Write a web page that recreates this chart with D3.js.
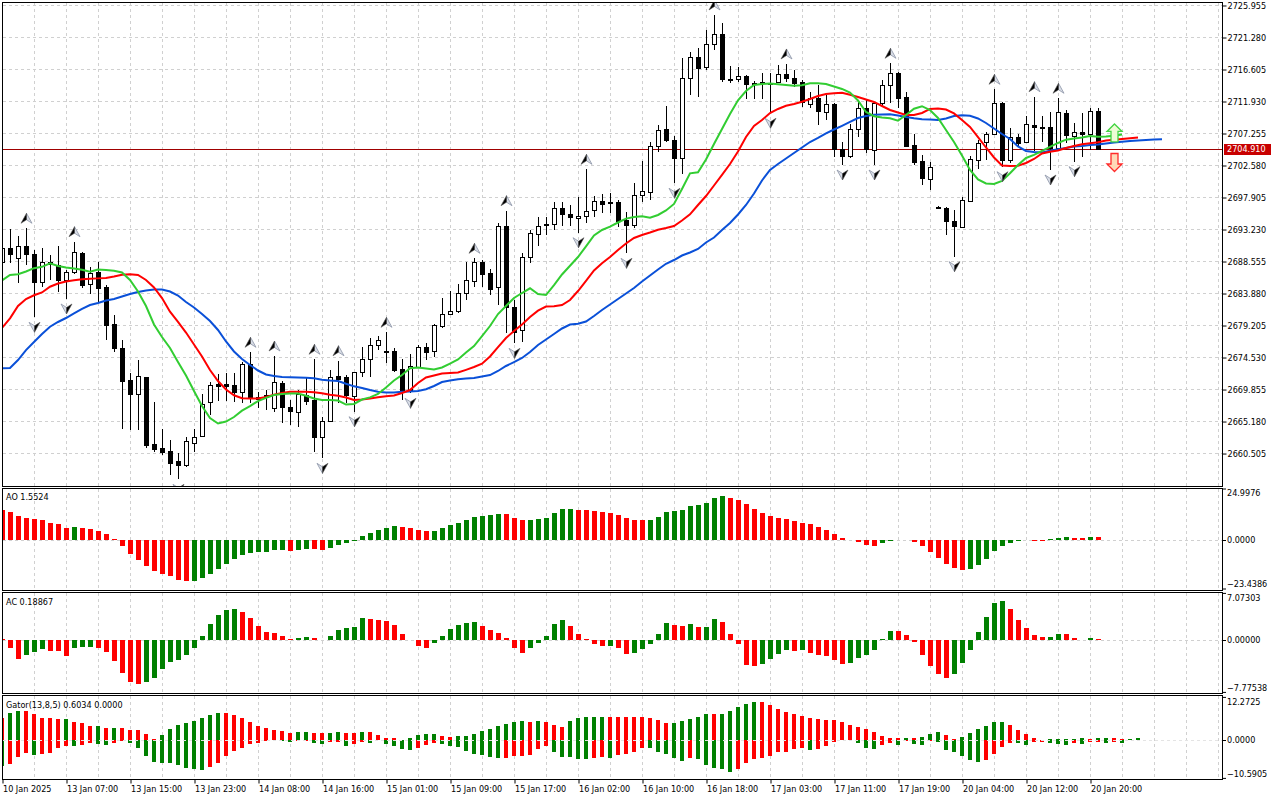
<!DOCTYPE html>
<html>
<head>
<meta charset="utf-8">
<script src="https://cdn.jsdelivr.net/npm/d3@7"></script>
<style>
  body { margin: 0; background: #fff; }
  svg text { font-family: "DejaVu Sans Condensed", "DejaVu Sans", sans-serif; font-stretch: condensed; font-size: 9px; fill: #000; }
</style>
</head>
<body>
<svg id="chart"></svg>
<script>
// candles, one per hour (bar index 0 = 10 Jan 2025)
let open = [2688.41,2690.41,2688.95,2690.75,2689.54,2685.45,2688.46,2687.97,2685.78,2686.91,
  2689.68,2685.20,2687.00,2684.72,2679.35,2675.80,2671.17,2669.08,2671.57,2661.82,
  2661.24,2660.80,2659.34,2658.75,2661.92,2662.99,2667.91,2670.54,2670.54,2670.44,
  2669.46,2673.51,2668.50,2669.02,2667.04,2670.69,2667.18,2666.54,2668.98,2668.25,
  2662.80,2665.08,2671.76,2671.57,2668.73,2672.24,2674.20,2676.18,2675.45,2675.41,
  2672.78,2669.71,2673.11,2676.04,2675.31,2679.10,2680.81,2681.15,2683.84,2685.68,
  2688.46,2686.76,2684.72,2693.67,2681.88,2678.37,2689.10,2692.60,2693.92,2693.92,
  2696.26,2695.38,2694.94,2695.18,2695.91,2697.28,2697.22,2697.22,2694.55,2693.82,
  2698.20,2698.68,2705.36,2707.80,2706.24,2703.56,2715.25,2718.32,2716.86,2720.22,
  2721.68,2715.10,2715.15,2715.63,2714.52,2714.49,2714.61,2714.67,2715.83,2715.25,
  2714.75,2711.50,2712.33,2710.37,2711.50,2704.88,2703.80,2707.80,2710.87,2704.67,
  2711.60,2714.27,2716.07,2712.47,2705.50,2703.17,2700.64,2696.40,2696.26,2694.40,
  2693.57,2697.22,2703.42,2705.84,2707.11,2711.69,2703.42,2706.72,2705.90,2708.43,
  2708.18,2708.09,2705.17,2710.14,2706.82,2707.36,2707.11,2710.47];
let high = [2691.63,2693.23,2692.21,2693.34,2690.16,2690.41,2689.43,2690.75,2687.24,2691.38,
  2689.92,2687.73,2688.46,2685.05,2680.67,2677.02,2672.15,2674.09,2671.66,2668.00,
  2663.97,2662.41,2660.51,2662.85,2663.97,2669.13,2670.92,2672.05,2672.24,2672.24,
  2673.85,2675.22,2669.46,2669.71,2674.68,2671.03,2668.25,2669.71,2671.57,2674.20,
  2665.81,2672.63,2673.99,2671.90,2672.38,2676.04,2677.27,2677.60,2678.14,2675.80,
  2674.20,2674.97,2676.29,2676.62,2679.35,2683.11,2684.22,2685.15,2688.46,2688.95,
  2688.70,2687.35,2694.07,2695.91,2682.86,2689.68,2693.09,2694.94,2695.03,2697.22,
  2697.22,2696.74,2697.95,2701.95,2698.05,2698.35,2698.45,2697.47,2695.76,2700.00,
  2703.17,2705.99,2708.43,2711.20,2706.82,2718.17,2719.14,2719.63,2722.31,2724.50,
  2723.29,2717.05,2716.94,2715.73,2714.86,2715.98,2716.07,2717.19,2717.34,2716.46,
  2715.00,2713.29,2714.27,2712.81,2711.64,2705.99,2708.57,2712.08,2712.08,2711.69,
  2715.00,2717.44,2716.21,2713.29,2707.11,2704.04,2703.07,2696.52,2696.49,2696.01,
  2697.95,2703.90,2706.24,2707.45,2713.64,2711.79,2707.95,2707.11,2709.74,2712.56,
  2709.74,2710.28,2712.33,2710.62,2708.76,2710.14,2710.87,2710.87];
let low = [2687.54,2688.27,2685.30,2687.97,2680.33,2684.72,2685.78,2684.07,2683.01,2686.66,
  2684.57,2683.74,2682.38,2677.02,2675.31,2664.01,2663.87,2663.87,2661.19,2660.70,
  2660.21,2657.29,2656.66,2658.46,2660.70,2662.80,2666.06,2668.15,2668.15,2668.00,
  2667.77,2667.77,2667.04,2666.79,2666.54,2664.85,2664.60,2664.35,2667.52,2660.70,
  2659.73,2665.08,2667.77,2667.77,2666.54,2671.66,2671.66,2675.55,2673.61,2672.38,
  2668.25,2669.23,2672.93,2674.09,2674.57,2678.73,2680.74,2681.00,2682.86,2684.72,
  2684.72,2683.59,2682.13,2678.04,2676.53,2676.77,2688.31,2690.75,2692.36,2693.09,
  2693.67,2693.67,2692.69,2694.15,2695.03,2695.53,2695.53,2693.57,2689.68,2693.34,
  2697.22,2697.47,2704.53,2705.99,2699.91,2701.27,2712.81,2712.47,2716.46,2719.39,
  2714.75,2714.61,2714.75,2712.23,2712.23,2712.23,2710.14,2714.52,2714.67,2714.02,
  2711.10,2710.87,2708.43,2709.16,2703.80,2702.58,2703.56,2706.72,2704.38,2702.58,
  2711.10,2711.60,2710.87,2705.26,2702.58,2699.66,2698.93,2696.16,2692.36,2689.19,
  2693.48,2697.22,2701.96,2703.31,2706.97,2702.33,2702.83,2705.26,2705.75,2704.67,
  2705.99,2701.85,2705.02,2705.75,2703.07,2703.80,2704.77,2704.70];
let close = [2690.46,2689.54,2690.75,2689.54,2685.45,2688.37,2688.22,2685.78,2686.91,2689.83,
  2684.95,2686.85,2684.72,2679.17,2675.80,2670.92,2669.08,2671.76,2661.68,2661.13,
  2660.70,2659.09,2658.75,2662.26,2662.80,2667.66,2670.44,2670.30,2670.19,2669.46,
  2673.51,2668.50,2668.73,2668.73,2670.84,2667.18,2666.54,2669.13,2668.15,2662.80,
  2665.18,2671.57,2671.32,2668.98,2672.30,2674.20,2676.29,2676.97,2675.26,2672.63,
  2669.71,2673.22,2676.04,2675.31,2679.17,2680.81,2681.25,2683.84,2685.78,2688.46,
  2686.76,2684.42,2693.67,2681.88,2678.23,2689.10,2692.60,2693.72,2693.72,2696.26,
  2695.38,2694.88,2695.18,2695.86,2697.28,2696.88,2697.07,2694.45,2693.82,2698.20,
  2698.78,2705.40,2707.70,2706.24,2703.56,2715.25,2718.32,2716.71,2720.22,2721.68,
  2715.10,2714.96,2715.63,2714.52,2714.42,2714.67,2714.49,2715.88,2715.25,2714.52,
  2711.83,2712.42,2710.37,2711.50,2704.88,2703.80,2707.80,2710.87,2704.88,2711.60,
  2714.27,2716.07,2712.47,2705.36,2703.07,2700.64,2702.33,2696.30,2694.30,2693.67,
  2697.47,2703.42,2705.84,2707.07,2711.60,2703.31,2706.72,2705.84,2708.53,2708.18,
  2708.03,2705.02,2710.37,2706.97,2707.36,2707.11,2710.47,2704.91];
let lastPrice = 2704.91;

// alligator lines, already shifted forward (jaw 8, teeth 5, lips 3 bars)
let jaw = [2672.88,2672.93,2674.09,2675.55,2676.72,2677.89,2678.96,2679.65,2680.23,2680.89,
  2681.55,2682.13,2682.42,2682.79,2683.01,2683.37,2683.74,2684.03,2684.25,2684.39,
  2684.40,2684.10,2683.52,2682.57,2681.76,2680.81,2679.79,2678.48,2676.80,2675.34,
  2674.24,2673.36,2672.56,2671.98,2671.76,2671.61,2671.58,2671.55,2671.52,2671.42,
  2671.20,2671.10,2671.03,2670.62,2670.25,2670.00,2669.71,2669.45,2669.35,2669.34,
  2669.45,2669.49,2669.57,2669.83,2670.30,2670.88,2671.10,2671.29,2671.39,2671.46,
  2671.68,2671.90,2672.49,2673.22,2673.80,2674.39,2675.26,2676.29,2677.09,2677.89,
  2678.70,2679.28,2679.38,2679.72,2680.52,2681.40,2682.20,2683.01,2683.81,2684.61,
  2685.56,2686.44,2687.32,2688.15,2688.70,2689.36,2689.80,2690.31,2691.26,2691.99,
  2693.09,2694.11,2695.35,2696.74,2698.42,2700.32,2701.85,2702.73,2703.53,2704.34,
  2705.14,2705.94,2706.53,2707.19,2707.77,2708.31,2708.87,2709.45,2709.74,2709.92,
  2709.96,2709.99,2709.82,2709.60,2709.42,2709.28,2709.22,2709.16,2709.38,2709.74,
  2709.85,2709.77,2709.38,2708.72,2707.92,2707.11,2706.38,2705.29,2704.63,2704.48,
  2704.41,2704.66,2704.89,2705.07,2705.27,2705.36,2705.51,2705.58,2705.71,2705.86,
  2705.97,2706.09,2706.16,2706.24,2706.29,2706.34];
let teeth = [2678.77,2680.19,2681.98,2683.01,2683.55,2683.96,2684.80,2685.27,2685.56,2685.74,
  2685.90,2685.96,2686.02,2686.07,2686.29,2686.54,2686.63,2686.51,2685.78,2684.69,
  2683.15,2681.15,2679.65,2678.11,2676.36,2674.61,2672.63,2671.03,2669.78,2668.94,
  2668.50,2668.49,2668.49,2668.69,2669.01,2669.27,2669.46,2669.46,2669.46,2669.39,
  2669.24,2669.02,2668.86,2668.62,2668.25,2668.32,2668.47,2668.66,2668.79,2668.91,
  2669.27,2669.71,2670.73,2671.54,2671.83,2672.12,2672.19,2672.27,2672.66,2673.07,
  2673.55,2674.61,2675.99,2677.31,2678.33,2679.28,2680.38,2681.30,2681.91,2681.94,
  2682.13,2682.86,2684.17,2685.64,2687.17,2688.22,2689.14,2690.16,2691.11,2691.92,
  2692.36,2692.72,2693.12,2693.38,2693.67,2694.47,2695.38,2696.74,2698.05,2699.59,
  2701.15,2702.73,2704.56,2706.67,2708.28,2709.16,2710.18,2710.77,2711.23,2711.50,
  2711.82,2712.23,2712.66,2712.96,2713.06,2713.13,2712.85,2712.52,2712.15,2711.79,
  2711.20,2710.62,2710.25,2709.89,2709.88,2710.18,2710.77,2710.84,2710.69,2710.11,
  2709.16,2708.14,2706.67,2705.14,2703.68,2702.51,2702.44,2702.47,2702.88,2703.46,
  2704.26,2704.53,2704.70,2705.07,2705.36,2705.62,2705.75,2705.90,2706.16,2706.27,
  2706.38,2706.50,2706.59];
let lips = [2685.71,2686.51,2686.63,2687.02,2687.51,2687.71,2688.22,2687.83,2687.61,2687.46,
  2687.27,2687.00,2687.32,2687.24,2687.13,2686.88,2685.78,2684.10,2681.98,2679.28,
  2677.45,2675.85,2673.80,2671.83,2669.56,2667.37,2665.62,2664.82,2665.11,2665.77,
  2666.69,2667.37,2668.10,2668.57,2668.98,2669.13,2669.20,2669.20,2668.88,2668.47,
  2668.25,2668.25,2668.18,2667.59,2667.67,2668.32,2668.64,2669.13,2670.08,2671.10,
  2671.90,2672.88,2673.00,2672.85,2672.71,2673.00,2673.58,2674.17,2675.19,2676.14,
  2677.60,2679.06,2680.81,2681.98,2683.15,2683.88,2684.57,2683.74,2683.59,2685.05,
  2686.59,2687.86,2689.14,2690.68,2692.28,2693.09,2693.57,2694.18,2694.75,2694.99,
  2695.09,2694.88,2695.28,2695.94,2696.89,2699.08,2701.37,2701.53,2703.39,2705.65,
  2707.84,2710.03,2712.04,2713.39,2714.27,2714.42,2714.49,2714.39,2714.27,2714.17,
  2714.23,2714.52,2714.52,2714.42,2714.05,2713.69,2713.15,2712.01,2710.33,2709.71,
  2709.51,2709.41,2709.06,2709.89,2710.81,2711.17,2710.62,2709.45,2707.70,2705.94,
  2703.97,2701.85,2700.47,2699.88,2699.81,2700.25,2701.37,2702.58,2703.61,2704.07,
  2704.66,2705.24,2705.80,2706.28,2706.44,2706.59,2706.82,2706.70,2706.73,2706.85,
  2707.04];

// fractal bars
let fractalUpBars = [3, 9, 31, 34, 39, 42, 48, 59, 63, 73, 89, 98, 111, 124, 129, 132];
let fractalDownBars = [4, 8, 22, 40, 44, 51, 64, 72, 78, 84, 96, 105, 109, 119, 125, 131, 134];

// signal arrows at the right edge
let signalBars = [139, 139];
let signalPrices = [2707.26, 2702.95];
let signalDirs = ["up", "down"];

// awesome oscillator
let ao = [14.5,13.6,11.6,10.8,10.2,9.7,8.4,7.9,5.8,6.3,
  5.8,5.3,4.4,2.9,0.5,-2.7,-6.6,-9.7,-12.6,-15.0,
  -16.5,-17.4,-19.4,-19.9,-19.7,-18.4,-16.5,-14.0,-11.6,-9.2,
  -7.3,-6.3,-5.9,-5.7,-4.8,-4.7,-5.3,-4.8,-4.4,-4.5,
  -4.9,-3.7,-2.4,-1.3,-0.3,1.9,3.5,4.8,5.8,6.8,
  6.3,6.0,5.0,4.3,4.5,6.0,7.3,8.4,9.7,11.1,
  11.6,12.1,12.6,12.5,10.7,9.8,9.9,10.2,10.8,13.1,
  15.0,15.1,14.5,14.4,14.0,13.6,13.1,12.1,10.7,9.8,
  9.7,9.9,11.1,13.7,14.2,14.7,16.5,17.1,18.1,20.3,
  21.3,20.3,19.4,17.4,15.0,13.1,11.6,10.7,10.2,9.2,
  8.2,7.7,6.5,4.8,2.9,1.1,0.1,-1.1,-2.4,-2.7,
  -1.3,-0.5,-0.1,-0.2,-0.8,-2.9,-5.6,-8.6,-11.6,-13.4,
  -14.5,-13.9,-12.1,-9.0,-5.2,-2.9,-1.3,-0.6,-0.2,-0.3,
  -0.35,0.4,0.8,1.3,1.0,0.9,1.6,1.5524];

// accelerator oscillator
let ac = [0.1,-1.15,-2.85,-2.2,-1.8,-1.3,-1.6,-1.65,-2.35,-1.25,
  -1.1,-1.0,-1.15,-1.75,-3.1,-4.9,-6.25,-6.55,-6.25,-5.65,
  -4.3,-3.25,-2.95,-2.2,-1.15,0.6,2.4,3.75,4.5,4.65,
  4.2,3.3,2.1,1.2,1.05,0.6,0.15,0.3,0.45,0.3,
  0.02,0.6,1.5,1.8,1.95,3.3,3.15,3.0,2.85,2.25,
  0.9,0.05,-0.9,-1.2,-0.5,0.6,1.65,2.25,2.55,2.7,
  2.1,1.5,1.05,0.3,-1.2,-1.95,-1.2,-0.45,0.6,2.4,
  3.0,2.1,0.9,0.15,-0.6,-0.9,-0.85,-1.2,-2.1,-1.95,
  -1.35,-0.6,0.9,2.55,2.25,2.1,2.4,1.95,2.0,3.15,
  2.7,0.9,-0.6,-3.75,-3.9,-3.6,-2.85,-2.1,-1.5,-1.65,
  -1.55,-1.95,-2.3,-2.4,-3.0,-3.6,-3.4,-2.7,-2.25,-1.5,
  0.1,1.35,1.3,0.75,-0.25,-2.25,-3.9,-5.1,-5.65,-5.1,
  -3.4,-1.45,1.2,3.45,5.55,5.85,4.65,3.0,1.8,0.75,
  0.45,0.47,0.9,0.88,0.3,0.05,0.3,0.18867];

// gator oscillator (upper and lower histograms)
let gatorUp = [6.30,7.71,8.18,8.15,7.43,6.30,6.28,6.02,6.05,5.08,
  4.89,3.95,4.05,3.48,3.50,3.45,3.01,2.98,1.79,0.38,
  1.41,3.20,4.23,4.89,5.46,6.30,7.15,7.62,7.58,7.15,
  6.30,5.17,4.05,3.48,2.92,2.54,2.07,2.35,2.38,2.07,
  2.05,2.08,2.35,2.07,2.05,2.35,2.32,1.51,0.66,0.60,
  0.20,0.66,1.51,1.79,1.82,1.22,0.94,1.13,1.22,1.79,
  2.63,3.20,4.05,4.61,5.17,5.46,5.17,5.46,5.17,4.33,
  3.76,5.46,6.30,6.59,6.62,6.65,6.60,6.58,6.55,6.52,
  6.50,6.30,5.74,4.89,4.92,5.46,6.02,6.59,7.43,7.40,
  7.45,8.28,9.41,10.25,10.82,10.80,9.97,8.84,8.00,7.43,
  6.87,6.30,6.02,5.74,5.70,5.17,4.33,3.76,3.20,2.35,
  1.22,0.66,0.64,0.68,0.62,0.94,1.79,2.35,1.51,0.38,
  0.94,2.07,3.20,4.05,5.17,5.20,4.33,2.92,1.79,0.66,
  0.10,0.38,0.40,0.42,0.44,0.66,0.38,0.66,0.68,0.62,
  0.38,0.40,0.6034];
let gatorDown = [-7.15,-6.68,-4.80,-3.57,-4.14,-3.86,-3.57,-2.07,-1.51,-1.55,
  -1.41,-0.75,-1.03,-1.32,-0.75,-0.28,-0.75,-2.07,-4.33,-6.11,
  -6.40,-6.45,-7.00,-7.81,-8.09,-8.37,-7.43,-6.40,-4.52,-3.01,
  -2.07,-1.03,-0.75,-0.09,-0.05,-0.10,-0.45,-0.15,-0.10,-0.75,
  -1.03,-0.38,-0.36,-1.51,-1.03,-0.47,-0.75,-0.05,-1.03,-1.69,
  -2.35,-2.63,-2.07,-1.22,-0.66,-0.94,-1.51,-1.79,-2.92,-3.76,
  -4.05,-4.61,-4.89,-4.87,-4.33,-4.30,-4.28,-2.35,-1.51,-3.20,
  -4.61,-4.65,-5.17,-5.20,-4.89,-4.61,-4.89,-4.05,-3.76,-3.20,
  -2.07,-2.10,-3.20,-3.76,-4.89,-5.74,-4.89,-5.17,-6.87,-7.71,
  -8.18,-8.84,-7.99,-6.30,-5.17,-4.89,-4.33,-3.39,-3.20,-2.35,
  -2.30,-2.63,-2.35,-1.51,-0.38,-0.05,-0.03,-0.66,-2.07,-2.35,
  -1.41,-0.75,-1.22,-0.19,-0.94,-1.22,-0.19,-0.38,-2.63,-3.20,
  -4.33,-5.46,-6.02,-5.46,-3.76,-1.79,-0.66,-0.68,-1.22,-0.38,
  -0.36,-0.66,-0.94,-1.22,-0.66,-0.94,-0.38,-0.36,-0.66,-0.38,
  -0.66,-0.05,0];

// axis labels
let priceTicks = [2725.955, 2721.280, 2716.605, 2711.930, 2707.255, 2702.580, 2697.905,
  2693.230, 2688.555, 2683.880, 2679.205, 2674.530, 2669.855, 2665.180, 2660.505];
let timeLabels = ["10 Jan 2025", "13 Jan 07:00", "13 Jan 15:00", "13 Jan 23:00", "14 Jan 08:00",
  "14 Jan 16:00", "15 Jan 01:00", "15 Jan 09:00", "15 Jan 17:00", "16 Jan 02:00", "16 Jan 10:00",
  "16 Jan 18:00", "17 Jan 03:00", "17 Jan 11:00", "17 Jan 19:00", "20 Jan 04:00", "20 Jan 12:00",
  "20 Jan 20:00"];
let timeBars = [0, 8, 16, 24, 32, 40, 48, 56, 64, 72, 80, 88, 96, 104, 112, 120, 128, 136];
let aoTicks = [24.9976, 0, -23.4386];
let acTicks = [7.07303, 0, -7.77538];
let gatorTicks = [12.2725, 0, -10.5905];

// ---------------------------------------------------------------
let width = 1280;
let height = 800;
let plotLeft = 2;
let plotRight = 1222;

let panels = {
    main:  {top: 2,   bottom: 486},
    ao:    {top: 488, bottom: 590},
    ac:    {top: 592, bottom: 693},
    gator: {top: 695, bottom: 779}
};

let green = "#008000";
let red = "#ff0000";
let gridColor = "#d0d0d0";

let svg = d3.select("#chart")
    .attr("width", width)
    .attr("height", height);

// scales
let x = d3.scaleLinear().domain([0, 152]).range([2, 1218]);
let yMain = d3.scaleLinear().domain([2655.69, 2726.685]).range([486, 0]);
let yAO = d3.scaleLinear().domain([-23.4386, 24.9976]).range([588.4, 488.4]);
let yAC = d3.scaleLinear().domain([-7.77538, 7.07303]).range([691.8, 592.8]);
let yGator = d3.scaleLinear().domain([-10.5905, 12.2725]).range([777.8, 696.8]);

let crisp = v => Math.round(v) + 0.5;

// clip paths for every panel
let defs = svg.append("defs");
Object.keys(panels).forEach(k => {
    defs.append("clipPath").attr("id", "clip-" + k)
        .append("rect")
        .attr("x", plotLeft + 1)
        .attr("y", panels[k].top + 1)
        .attr("width", plotRight - plotLeft - 1)
        .attr("height", panels[k].bottom - panels[k].top - 1);
});

// vertical grid in all panels
let vGrid = d3.range(1, 39).map(k => k * 4);
let gridGroup = svg.append("g");
Object.keys(panels).forEach(k => {
    gridGroup.selectAll(".vg-" + k)
        .data(vGrid).enter()
        .append("line")
        .attr("x1", d => crisp(x(d))).attr("x2", d => crisp(x(d)))
        .attr("y1", panels[k].top + 1).attr("y2", panels[k].bottom)
        .attr("stroke", gridColor)
        .attr("stroke-dasharray", "3,3");
});

// horizontal grid in main panel
gridGroup.selectAll(".hg")
    .data(priceTicks).enter()
    .append("line")
    .attr("x1", plotLeft + 1).attr("x2", plotRight)
    .attr("y1", d => crisp(yMain(d))).attr("y2", d => crisp(yMain(d)))
    .attr("stroke", gridColor)
    .attr("stroke-dasharray", "3,3");

// zero lines in indicator panels
[yAO, yAC, yGator].forEach(s => {
    gridGroup.append("line")
        .attr("x1", plotLeft + 1).attr("x2", plotRight)
        .attr("y1", crisp(s(0))).attr("y2", crisp(s(0)))
        .attr("stroke", gridColor)
        .attr("stroke-dasharray", "3,3");
});

// ------------------------------------------------ main panel
let mainGroup = svg.append("g").attr("clip-path", "url(#clip-main)");

// last price line
mainGroup.append("line")
    .attr("x1", plotLeft).attr("x2", plotRight)
    .attr("y1", crisp(yMain(lastPrice))).attr("y2", crisp(yMain(lastPrice)))
    .attr("stroke", "#a00000");

let bars = d3.range(open.length);

// wicks
mainGroup.selectAll(".wick")
    .data(bars).enter()
    .append("line")
    .attr("x1", i => x(i) + 0.5).attr("x2", i => x(i) + 0.5)
    .attr("y1", i => Math.round(yMain(high[i])))
    .attr("y2", i => Math.round(yMain(low[i])))
    .attr("stroke", "#000");

// bodies
mainGroup.selectAll(".body")
    .data(bars).enter()
    .append("rect")
    .attr("x", i => x(i) - 1.5)
    .attr("width", 4)
    .attr("y", i => crisp(yMain(Math.max(open[i], close[i]))))
    .attr("height", i => Math.max(1, Math.round(Math.abs(yMain(open[i]) - yMain(close[i])))))
    .attr("fill", i => close[i] > open[i] ? "#fff" : "#000")
    .attr("stroke", "#000");

// alligator lines
let lineGen = d3.line()
    .x((d, i) => x(i))
    .y(d => yMain(d));

mainGroup.append("path").datum(jaw)
    .attr("d", lineGen).attr("fill", "none")
    .attr("stroke", "#0a50d8").attr("stroke-width", 2);
mainGroup.append("path").datum(teeth)
    .attr("d", lineGen).attr("fill", "none")
    .attr("stroke", "#ff0000").attr("stroke-width", 2);
mainGroup.append("path").datum(lips)
    .attr("d", lineGen).attr("fill", "none")
    .attr("stroke", "#32cd32").attr("stroke-width", 2);

// fractal glyphs
function fractal(g, cx, cy, up) {
    let f = g.append("g")
        .attr("transform", `translate(${cx},${cy}) rotate(${up ? 0 : 180})`);
    f.append("path")
        .attr("d", "M0,-5 L5.5,5 L0,1.5 Z")
        .attr("fill", "#d9dde6").attr("stroke", "#8a93a6").attr("stroke-width", 0.8);
    f.append("path")
        .attr("d", "M0,-5 L0,1.5 L-5.5,5 Z")
        .attr("fill", "#000").attr("stroke", "#555").attr("stroke-width", 0.6);
}
fractalUpBars.forEach(i => fractal(mainGroup, x(i) + 0.5, yMain(high[i]) - 10, true));
fractalDownBars.forEach(i => fractal(mainGroup, x(i) + 0.5, yMain(low[i]) + 10, false));

// signal arrows
signalBars.forEach((b, k) => {
    let up = signalDirs[k] === "up";
    let cx = x(b) + 0.5;
    let cy = yMain(signalPrices[k]);
    mainGroup.append("path")
        .attr("transform", `translate(${cx},${cy}) scale(1,${up ? 1 : -1})`)
        .attr("d", "M0,-9 L7.5,-1.5 L3.5,-1.5 L3.5,9 L-3.5,9 L-3.5,-1.5 L-7.5,-1.5 Z")
        .attr("fill", up ? "#eefcd6" : "#ffd9b8")
        .attr("stroke", up ? "#43d443" : "#ff2a2a")
        .attr("stroke-width", 1.3);
});

// ------------------------------------------------ histograms
function histColors(values, absolute) {
    let cols = [];
    values.forEach((v, i) => {
        if (i === 0) { cols.push(absolute ? green : red); return; }
        let a = absolute ? Math.abs(v) : v;
        let b = absolute ? Math.abs(values[i - 1]) : values[i - 1];
        cols.push(a > b ? green : (a < b ? red : cols[i - 1]));
    });
    return cols;
}

function histogram(values, yScale, clipId, barWidth, absolute) {
    let cols = histColors(values, absolute);
    let zero = Math.round(yScale(0));
    svg.append("g").attr("clip-path", `url(#${clipId})`)
        .selectAll("rect")
        .data(values).enter()
        .append("rect")
        .attr("x", (d, i) => x(i) - Math.floor(barWidth / 2))
        .attr("width", barWidth)
        .attr("y", d => d >= 0 ? Math.round(yScale(d)) : zero)
        .attr("height", d => Math.abs(Math.round(yScale(d)) - zero))
        .attr("fill", (d, i) => cols[i]);
}

histogram(ao, yAO, "clip-ao", 5, false);
histogram(ac, yAC, "clip-ac", 5, false);
histogram(gatorUp, yGator, "clip-gator", 4, false);
histogram(gatorDown, yGator, "clip-gator", 4, true);

// gator zero line shows through the bars
svg.append("line")
    .attr("x1", plotLeft + 1).attr("x2", plotRight)
    .attr("y1", crisp(yGator(0))).attr("y2", crisp(yGator(0)))
    .attr("stroke", "#e4e4e4")
    .attr("stroke-dasharray", "3,3");

// ------------------------------------------------ frames
Object.keys(panels).forEach(k => {
    svg.append("rect")
        .attr("x", plotLeft + 0.5).attr("y", panels[k].top + 0.5)
        .attr("width", plotRight - plotLeft)
        .attr("height", panels[k].bottom - panels[k].top)
        .attr("fill", "none").attr("stroke", "#000");
});

// ------------------------------------------------ axes
let priceAxis = d3.axisRight(yMain)
    .tickValues(priceTicks)
    .tickFormat(d3.format(".3f"))
    .tickSize(4)
    .tickPadding(1);
let priceAxisG = svg.append("g")
    .attr("transform", `translate(${plotRight + 0.5},0.5)`)
    .call(priceAxis);
priceAxisG.select(".domain").remove();
priceAxisG.selectAll("text").attr("font-size", null).attr("font-family", null);

let timeAxis = d3.axisBottom(x)
    .tickValues(timeBars)
    .tickFormat((d, i) => timeLabels[i])
    .tickSize(4)
    .tickPadding(2);
let timeAxisG = svg.append("g")
    .attr("transform", `translate(0.5,${panels.gator.bottom + 0.5})`)
    .call(timeAxis);
timeAxisG.select(".domain").remove();
timeAxisG.selectAll("text")
    .attr("text-anchor", "start")
    .attr("x", 0)
    .attr("font-size", null).attr("font-family", null);

// indicator value scales at the right
function sideLabels(ticks, yScale, fmt) {
    let g = svg.append("g");
    ticks.forEach((t, k) => {
        let yy = crisp(yScale(t));
        if (k === 0) yy = yScale.range()[1] + 0.6;
        if (k === 2) yy = yScale.range()[0] + 0.6;
        g.append("line")
            .attr("x1", plotRight).attr("x2", plotRight + 4)
            .attr("y1", yy).attr("y2", yy)
            .attr("stroke", "#000");
        let shift = k === 0 ? 4.5 : (k === 2 ? -4.5 : 0);
        g.append("text")
            .attr("x", plotRight + 5)
            .attr("y", yy + shift)
            .attr("dy", "0.33em")
            .text(fmt(t));
    });
}
sideLabels(aoTicks, yAO, d3.format(".4f"));
sideLabels(acTicks, yAC, d3.format(".5f"));
sideLabels(gatorTicks, yGator, d3.format(".4f"));

// last price tag
svg.append("rect")
    .attr("x", plotRight + 2).attr("y", crisp(yMain(lastPrice)) - 5.5)
    .attr("width", 47).attr("height", 11)
    .attr("fill", "#c80000");
svg.append("text")
    .attr("x", plotRight + 5).attr("y", crisp(yMain(lastPrice)))
    .attr("dy", "0.33em")
    .style("fill", "#fff")
    .text(d3.format(".3f")(lastPrice));

// indicator titles
svg.append("text").attr("x", 6).attr("y", 500).text("AO " + d3.format(".4f")(ao[ao.length - 1]));
svg.append("text").attr("x", 6).attr("y", 604.5).text("AC " + d3.format(".5f")(ac[ac.length - 1]));
svg.append("text").attr("x", 6).attr("y", 708)
    .text("Gator(13,8,5) " + d3.format(".4f")(gatorUp[gatorUp.length - 1]) + " "
        + d3.format(".4f")(Math.abs(gatorDown[gatorDown.length - 1])));
</script>
</body>
</html>
